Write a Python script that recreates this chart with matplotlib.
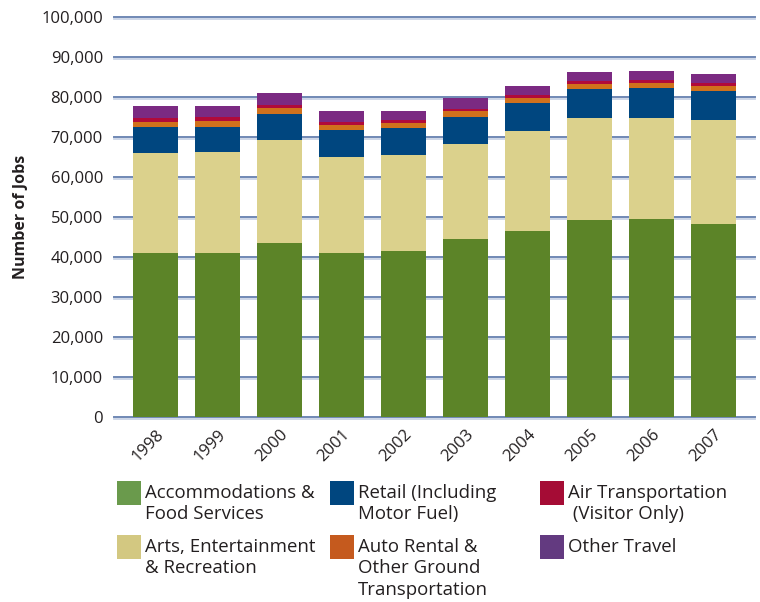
import matplotlib
matplotlib.use("Agg")
import matplotlib.pyplot as plt
from matplotlib.patches import Rectangle
import matplotlib.transforms as mtransforms
import numpy as np

plt.rcParams['font.family'] = ['Open Sans', 'DejaVu Sans']

years = ['1998', '1999', '2000', '2001', '2002', '2003', '2004', '2005', '2006', '2007']
series_names = ['Accommodations &\nFood Services',
                'Arts, Entertainment\n& Recreation',
                'Retail (Including\nMotor Fuel)',
                'Auto Rental &\nOther Ground\nTransportation',
                'Air Transportation\n (Visitor Only)',
                'Other Travel']
accommodations = [40900, 40900, 43400, 40900, 41400, 44400, 46400, 49200, 49400, 48200]
arts = [25000, 25300, 25800, 24000, 24000, 23800, 25000, 25500, 25300, 26000]
retail = [6500, 6200, 6500, 6800, 6800, 6700, 7000, 7200, 7500, 7200]
auto_rental = [1300, 1500, 1500, 1200, 1200, 1500, 1300, 1300, 1200, 1300]
air = [1000, 1000, 700, 800, 800, 500, 700, 700, 800, 700]
other = [3000, 2800, 3000, 2700, 2200, 2800, 2300, 2300, 2200, 2300]
yticks = [0, 10000, 20000, 30000, 40000, 50000, 60000, 70000, 80000, 90000, 100000]

bar_colors = ['#5c8428', '#dbd18c', '#00467f', '#d0711c', '#b10a3a', '#7b2a82']
legend_colors = ['#6a9a4c', '#d3c881', '#00467f', '#c55a1e', '#a50c35', '#633a80']

fig = plt.figure(figsize=(7.6, 6.02), dpi=100)
ax = fig.add_axes([114/760, 1-417/602, 641/760, 400/602])

x = np.arange(len(years))
bottom = np.zeros(len(years))
for vals, c in zip([accommodations, arts, retail, auto_rental, air, other], bar_colors):
    ax.bar(x, vals, width=0.726, bottom=bottom, color=c, zorder=3, linewidth=0)
    bottom += np.array(vals)

ax.set_xlim(-0.669, 9.67)
ax.set_ylim(0, 100000)
ax.set_yticks(yticks)
ax.set_yticklabels([f"{v:,}" for v in yticks])
shift = mtransforms.ScaledTranslation(0, -1.5/72, fig.dpi_scale_trans)
for v in yticks:
    ax.plot([0, 1], [v, v], color='#c9d3e6', lw=1.3, zorder=1,
            transform=ax.get_yaxis_transform() + shift, clip_on=False)
    ax.plot([0, 1], [v, v], color='#7088b4', lw=1.4, zorder=2,
            transform=ax.get_yaxis_transform(), clip_on=False)
ax.set_xticks(x)
ax.set_xticklabels(years, rotation=45, ha='right', rotation_mode='anchor')
ax.tick_params(axis='both', length=0, labelsize=12, colors='#231f20')
ax.tick_params(axis='y', pad=8)
ax.tick_params(axis='x', pad=7)
for s in ax.spines.values():
    s.set_visible(False)
ax.set_ylabel('Number of Jobs', fontsize=11.5, fontweight='bold', color='#231f20', labelpad=9)

# legend
order = [0, 2, 4, 1, 3, 5]
xs = [117, 330, 540]
ys = [481, 535]
for k, idx in enumerate(order):
    col = k % 3
    row = k // 3
    px, py = xs[col], ys[row]
    fig.add_artist(Rectangle((px/760, 1-(py+24)/602), 24/760, 24/602,
                             transform=fig.transFigure, color=legend_colors[idx], lw=0))
    fig.text((px+28)/760, 1-(py+3)/602, series_names[idx], fontsize=13.4,
             va='top', ha='left', color='#231f20', linespacing=1.24)

fig.savefig('out.png', dpi=100)
